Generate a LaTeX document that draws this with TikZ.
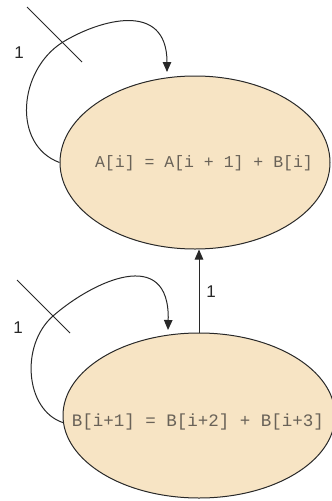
\documentclass[tikz,border=0pt]{standalone}
\usepackage{fontspec}
\setmainfont{Liberation Sans}
\newfontfamily\codefont{Liberation Mono}
\usetikzlibrary{shapes.geometric,arrows.meta}
\definecolor{tanfill}{RGB}{247,228,196}
\definecolor{codegray}{RGB}{105,98,88}
\definecolor{linegray}{RGB}{40,40,40}
\tikzset{
  stmt/.style={ellipse, draw=linegray, line width=1pt, fill=tanfill, inner sep=0pt},
  codetext/.style={text=codegray, inner sep=0pt},
  edge/.style={draw=linegray, line width=1pt},
  arr/.style={edge, -{Triangle[length=10pt,width=8.5pt]}},
  cut/.style={draw=linegray, line width=1pt},
  lbl/.style={font=\fontsize{17}{20}\selectfont, text=linegray, inner sep=0pt}
}
\begin{document}
\begin{tikzpicture}[x=1pt,y=-1pt]
\useasboundingbox (0,0) rectangle (332,501);
% statement nodes
\node[stmt, minimum width=270pt, minimum height=173pt] (A) at (195,162.5) {};
\node[stmt, minimum width=272pt, minimum height=165pt] (B) at (199,415.5) {};
\node[codetext, font=\codefont\fontsize{16.5}{18}\selectfont] (At) at (204,163) {A[i] = A[i + 1] + B[i]};
\node[codetext, font=\codefont\fontsize{17.5}{19}\selectfont] (Bt) at (198,422) {B[i+1] = B[i+2] + B[i+3]};
% loop ends
\coordinate (Ain) at (167,72);
\coordinate (Bin) at (168,330);
% self loops
\draw[arr] (A.west) .. controls (12,145) and (18,70) .. (63,42)
  .. controls (99,20) and (167,0) .. (Ain);
\draw[arr] (B.183) .. controls (25,410) and (20,345) .. (53,316)
  .. controls (93,281) and (170,245) .. (Bin);
% cut marks
\coordinate (c1a) at (27,7);  \coordinate (c1b) at (82,62);
\coordinate (c2a) at (17,280); \coordinate (c2b) at (70,333);
\draw[cut] (c1a) -- (c1b);
\draw[cut] (c2a) -- (c2b);
% dependence B -> A
\draw[arr] (B.north) -- (B.north |- A.south);
% labels
\node[lbl] (l1) at (19,53) {1};
\node[lbl] (l2) at (18,328) {1};
\node[lbl] (l3) at (211,292) {1};
\end{tikzpicture}
\end{document}
